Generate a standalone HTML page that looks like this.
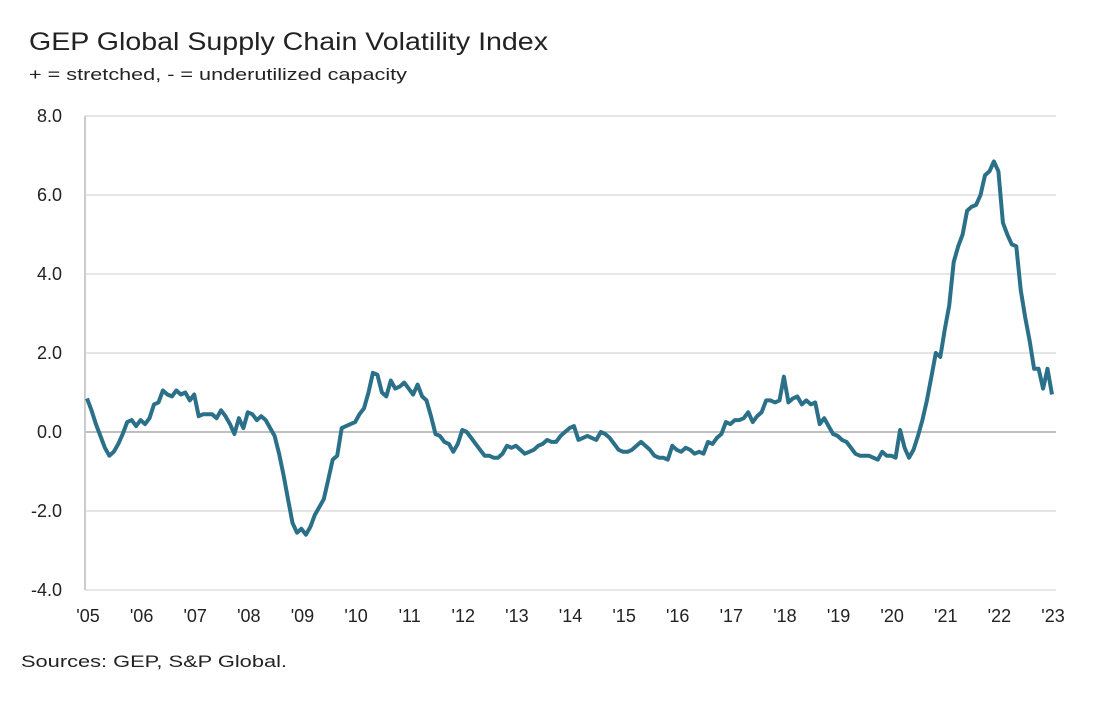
<!DOCTYPE html>
<html><head><meta charset="utf-8"><style>
body{margin:0;background:#fff;}
svg text{font-family:"Liberation Sans",sans-serif;fill:#222;}
</style></head><body>
<svg width="1108" height="700" viewBox="0 0 1108 700">
<text x="29" y="50" font-size="25" fill="#333" textLength="519" lengthAdjust="spacingAndGlyphs">GEP Global Supply Chain Volatility Index</text>
<text x="29" y="80" font-size="17" textLength="378" lengthAdjust="spacingAndGlyphs">+ = stretched, - = underutilized capacity</text>
<g id="grid"></g>
<g id="yt"></g>
<g id="xt"></g>
<line x1="85" y1="116" x2="85" y2="590" stroke="#ccc" stroke-width="2"/>
<path id="ln" fill="none" stroke="#2a7088" stroke-width="4" stroke-linejoin="round"/>
<text x="21" y="667" font-size="17" textLength="266" lengthAdjust="spacingAndGlyphs">Sources: GEP, S&amp;P Global.</text>
</svg>
<script>
const yTicks=[8,6,4,2,0,-2,-4];
const yTickLabels=["8.0","6.0","4.0","2.0","0.0","-2.0","-4.0"];
const xTickLabels=["'05","'06","'07","'08","'09","'10","'11","'12","'13","'14","'15","'16","'17","'18","'19","'20","'21","'22","'23"];
const values=[
0.85,0.55,0.2,-0.1,-0.4,-0.6,-0.5,-0.3,-0.05,0.25,0.3,0.15,
0.3,0.2,0.35,0.7,0.75,1.05,0.95,0.9,1.05,0.95,1.0,0.8,
0.95,0.4,0.45,0.45,0.45,0.35,0.55,0.4,0.2,-0.05,0.35,0.1,
0.5,0.45,0.3,0.4,0.3,0.1,-0.1,-0.55,-1.1,-1.7,-2.3,-2.55,
-2.45,-2.6,-2.4,-2.1,-1.9,-1.7,-1.2,-0.7,-0.6,0.1,0.15,0.2,
0.25,0.45,0.6,1.0,1.5,1.45,1.0,0.9,1.3,1.1,1.15,1.25,
1.1,0.95,1.2,0.9,0.8,0.4,-0.05,-0.1,-0.25,-0.3,-0.5,-0.3,
0.05,0.0,-0.15,-0.3,-0.45,-0.6,-0.6,-0.65,-0.65,-0.55,-0.35,-0.4,
-0.35,-0.45,-0.55,-0.5,-0.45,-0.35,-0.3,-0.2,-0.25,-0.25,-0.1,0.0,
0.1,0.15,-0.2,-0.15,-0.1,-0.15,-0.2,0.0,-0.05,-0.15,-0.3,-0.45,
-0.5,-0.5,-0.45,-0.35,-0.25,-0.35,-0.45,-0.6,-0.65,-0.65,-0.7,-0.35,
-0.45,-0.5,-0.4,-0.45,-0.55,-0.5,-0.55,-0.25,-0.3,-0.15,-0.05,0.25,
0.2,0.3,0.3,0.35,0.5,0.25,0.4,0.5,0.8,0.8,0.75,0.8,
1.4,0.75,0.85,0.9,0.7,0.8,0.7,0.75,0.2,0.35,0.15,-0.05,
-0.1,-0.2,-0.25,-0.4,-0.55,-0.6,-0.6,-0.6,-0.65,-0.7,-0.5,-0.6,
-0.6,-0.65,0.05,-0.4,-0.65,-0.45,-0.1,0.3,0.8,1.4,2.0,1.9,
2.6,3.2,4.3,4.7,5.0,5.6,5.7,5.75,6.0,6.5,6.6,6.85,
6.6,5.3,5.0,4.75,4.7,3.6,2.9,2.3,1.6,1.6,1.1,1.6,
0.95];
const NS="http://www.w3.org/2000/svg";
const x0=87,x1=1052,nM=216;
function xs(m){return x0+m*(x1-x0)/nM;}
function ys(v){return 432-v*39.5;}
const grid=document.getElementById('grid'),yt=document.getElementById('yt'),xt=document.getElementById('xt');
yTicks.forEach((t,i)=>{
 const l=document.createElementNS(NS,'line');
 l.setAttribute('x1',85);l.setAttribute('x2',1056);
 l.setAttribute('y1',ys(t));l.setAttribute('y2',ys(t));
 l.setAttribute('stroke',t===0?'#aaa':'#ddd');l.setAttribute('stroke-width',1.5);
 
 
 grid.appendChild(l);
 const tx=document.createElementNS(NS,'text');
 tx.setAttribute('x',62);tx.setAttribute('y',ys(t)+6);tx.setAttribute('font-size','18');tx.setAttribute('text-anchor','end');
 tx.textContent=yTickLabels[i];
 
 
 yt.appendChild(tx);
});
xTickLabels.forEach((s,i)=>{
 const tx=document.createElementNS(NS,'text');
 tx.setAttribute('x',xs(i*12)+1);tx.setAttribute('y',622);tx.setAttribute('font-size','18');tx.setAttribute('text-anchor','middle');
 tx.textContent=s;
 
 
 xt.appendChild(tx);
});
document.getElementById('ln').setAttribute('d',values.map((v,i)=>(i?'L':'M')+xs(i).toFixed(1)+','+ys(v).toFixed(1)).join(''));
</script>
</body></html>
